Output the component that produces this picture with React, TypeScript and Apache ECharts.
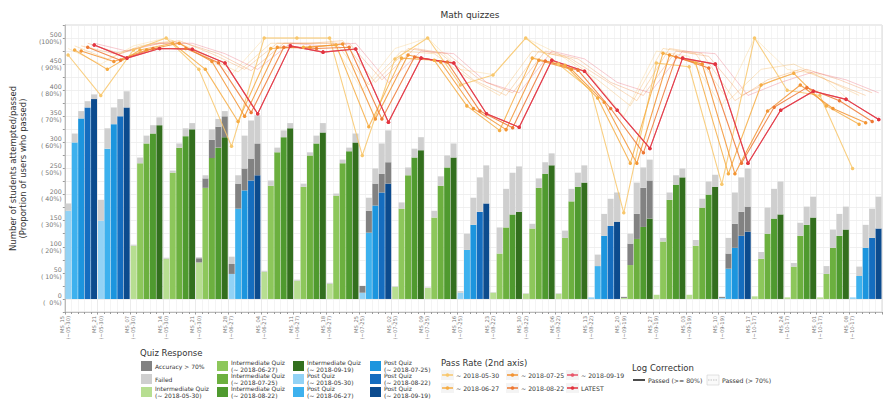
import React, { useEffect, useRef } from 'react';
import * as echarts from 'echarts';

// ---------- data ----------
const snapshots = ['2018-05-30', '2018-06-27', '2018-07-25', '2018-08-22', '2018-09-19'];
const quizNames = ['MS_15', 'MS_21', 'MS_07', 'MS_14', 'MS_21', 'MS_28', 'MS_04', 'MS_11', 'MS_18', 'MS_25', 'MS_02', 'MS_09', 'MS_16',
  'MS_23', 'MS_30', 'MS_06', 'MS_13', 'MS_20', 'MS_27', 'MS_03', 'MS_10', 'MS_17', 'MS_24', 'MS_01', 'MS_08'];
const quizWindows = ['(~05-30)', '(~05-30)', '(~05-30)', '(~05-30)', '(~05-30)', '(~06-27)', '(~06-27)', '(~06-27)', '(~06-27)', '(~07-25)',
  '(~07-25)', '(~07-25)', '(~07-25)', '(~08-22)', '(~08-22)', '(~08-22)', '(~08-22)', '(~09-19)', '(~09-19)', '(~09-19)', '(~09-19)',
  '(~10-17)', '(~10-17)', '(~10-17)', '(~10-17)'];
const quizType = ['post', 'post', 'inter', 'inter', 'inter', 'post', 'inter', 'inter', 'inter', 'post', 'inter', 'inter', 'post',
  'inter', 'inter', 'inter', 'post', 'inter', 'inter', 'inter', 'post', 'inter', 'inter', 'inter', 'post'];

// students who passed, per snapshot
const passed0530 = [169, 150, 102, 77, 70, 48, 52, 35, 29, 12, 23, 21, 12, 12, 10, 10, 3, 2, 8, 8, 2, 5, 3, 3, 3];
const passed0627 = [300, 288, 260, 242, 213, 173, 217, 215, 198, 127, 173, 156, 94, 87, 135, 117, 63, 65, 110, 102, 58, 77, 62, 48, 44];
const passed0725 = [346, 335, 298, 290, 270, 208, 281, 275, 260, 179, 237, 217, 142, 137, 213, 187, 121, 115, 190, 175, 98, 125, 121, 98, 98];
const passed0822 = [367, 350, 317, 312, 290, 227, 310, 298, 283, 204, 271, 252, 167, 162, 240, 215, 140, 138, 219, 200, 121, 154, 142, 121, 117];
const passed0919 = [383, 367, 333, 325, 310, 237, 327, 319, 300, 221, 285, 271, 183, 167, 256, 223, 148, 154, 233, 215, 129, 162, 156, 133, 135];
// not passed but accuracy > 70%
const acc0530 = [0, 0, 0, 0, 8, 19, 0, 0, 0, 13, 0, 0, 0, 0, 0, 0, 0, 2, 0, 0, 2, 0, 0, 0, 0];
const acc0627 = [0, 0, 0, 0, 18, 48, 0, 0, 0, 42, 0, 0, 0, 0, 0, 0, 0, 41, 0, 0, 29, 0, 0, 0, 0];
const acc0725 = [0, 0, 0, 0, 35, 42, 0, 0, 0, 42, 0, 0, 0, 0, 0, 0, 0, 48, 0, 0, 46, 0, 0, 0, 0];
const acc0822 = [0, 0, 0, 0, 40, 42, 0, 0, 0, 36, 0, 0, 0, 0, 0, 0, 0, 75, 0, 0, 46, 0, 0, 0, 0];
const acc0919 = [0, 0, 0, 0, 40, 61, 0, 0, 0, 41, 0, 0, 0, 0, 0, 0, 0, 73, 0, 0, 48, 0, 0, 0, 0];
// failed
const failed0530 = [14, 40, 2, 2, 2, 14, 2, 2, 2, 0, 1, 1, 3, 1, 1, 1, 0, 0, 0, 0, 0, 0, 0, 0, 0];
const failed0627 = [17, 39, 11, 4, 6, 16, 10, 6, 4, 25, 12, 13, 31, 50, 9, 14, 22, 19, 7, 11, 30, 13, 7, 15, 18];
const failed0725 = [14, 32, 15, 8, 20, 63, 9, 6, 7, 29, 15, 18, 52, 74, 18, 24, 42, 60, 14, 17, 60, 50, 25, 35, 44];
const failed0822 = [12, 33, 16, 15, 15, 73, 13, 15, 7, 58, 17, 23, 66, 80, 22, 27, 52, 39, 18, 25, 66, 57, 35, 42, 56];
const failed0919 = [9, 31, 15, 12, 10, 54, 10, 18, 17, 61, 25, 27, 73, 87, 23, 33, 56, 40, 17, 23, 73, 63, 40, 44, 61];

// pass rate (%) , passed >= 80%
const rate0530 = [93.5, 78, 95.4, 100, 88, 58.5, 100, 100, 100, 55, 92, 100, 82, 85.8, 100, 90, 80, 33, 90.4, 89, 44, 100, 80, 78, 50];
const rate0627 = [95.4, 88, 95.4, 98, 88, 68, 96, 96.5, 97.3, 66, 92.3, 91.5, 74, 64.6, 92.3, 89.6, 77, 52, 94.2, 90.4, 48, 82, 86.5, 74, 67];
const rate0725 = [95, 91, 95.4, 98, 91, 70, 96.5, 96.5, 97.7, 69, 93.5, 90.8, 73, 64.9, 91.5, 88, 75.4, 52, 93.5, 90, 48, 72, 82, 73, 67.5];
const rate0822 = [96.5, 91.5, 96, 96, 90.5, 71.5, 96.5, 96, 96.5, 69, 92.7, 90.8, 72, 65.6, 91.2, 87.7, 73, 56, 92.7, 88.5, 52, 73.5, 81, 76, 68];
const rate0919 = [97.3, 92.3, 96, 95.7, 90.4, 71, 97, 94.6, 95.8, 67.7, 92.3, 90.4, 71, 65.8, 91.5, 87.3, 72.3, 57.7, 92.3, 90, 52, 72.3, 79.6, 76.5, 68.8];
const rateLatest = [97.3, 92.3, 96, 95.7, 90.4, 71, 97, 94.6, 95.8, 67.7, 92.3, 90.4, 71, 65.8, 91.5, 87.3, 72.3, 57.7, 92.3, 90, 52, 72.3, 79.6, 76.5, 68.8];
// pass rate (%) , passed > 70%
const soft0530 = [96, 90, 97, 100, 95, 86, 100, 100, 100, 80, 96, 100, 88, 86, 100, 94, 85, 70, 95, 93, 74, 100, 88, 86, 75];
const soft0627 = [97, 92, 97, 99, 93, 87, 98, 98, 98, 82, 95, 94, 85, 78, 95, 93, 84, 74, 96, 94, 76, 88, 90, 84, 78];
const soft0725 = [97, 94, 97, 99, 94, 88, 98, 98, 99, 83, 96, 94, 84, 78, 95, 92, 84, 76, 96, 94, 76, 84, 88, 83, 78];
const soft0822 = [98, 94, 98, 98, 94, 87.5, 98, 98, 98, 84, 96, 94, 84, 79, 95, 92, 83, 78, 95, 93, 78, 84, 88, 84, 79];
const soft0919 = [98, 95, 98, 98, 94, 88, 98, 97, 98, 83, 95, 94, 83, 79, 95, 92, 83, 79, 95, 94, 78, 83, 87, 84, 79];

const yTicks = [0, 50, 100, 150, 200, 250, 300, 350, 400, 450, 500];

// ---------- styles ----------
const greens = ['#b7de91', '#8dc75b', '#6cb03f', '#4f9a2f', '#336f1e'];
const blues = ['#92d2f5', '#3db1ee', '#1c95de', '#156dbf', '#0c4b8e'];
const darkGrey = '#828282';
const lightGrey = '#cfcfcf';
const lineColors = ['#f8c76c', '#f6ad44', '#f39433', '#ee7834', '#e8566a', '#e2353f'];
const FONT = 'DejaVu Sans';

export default function App() {
  const ref = useRef<HTMLDivElement>(null);
  useEffect(() => {
    if (!ref.current) return;
    const chart = echarts.init(ref.current, undefined, { renderer: 'svg' });
    const passed = [passed0530, passed0627, passed0725, passed0822, passed0919];
    const acc = [acc0530, acc0627, acc0725, acc0822, acc0919];
    const failed = [failed0530, failed0627, failed0725, failed0822, failed0919];
    const rates = [rate0530, rate0627, rate0725, rate0822, rate0919, rateLatest];
    const softs = [soft0530, soft0627, soft0725, soft0822, soft0919];
    const nSlots = 5;

    const series: any[] = [];
    for (let d = 0; d < 5; d++) {
      const common = { type: 'bar', stack: 's' + d, xAxisIndex: 0, yAxisIndex: 0, barCategoryGap: '3%', barGap: '8%', silent: true };
      series.push({
        ...common,
        name: 'passed ' + snapshots[d],
        data: passed[d].map((v, i) => ({ value: v, itemStyle: { color: quizType[i] === 'post' ? blues[d] : greens[d] } })),
      });
      series.push({ ...common, name: 'acc ' + snapshots[d], data: acc[d], itemStyle: { color: darkGrey } });
      series.push({ ...common, name: 'failed ' + snapshots[d], data: failed[d], itemStyle: { color: lightGrey } });
    }
    softs.forEach((arr, d) => {
      series.push({
        type: 'line', xAxisIndex: 1, yAxisIndex: 0, z: 4, silent: true,
        data: arr.map((p, i) => [i * nSlots + d + 0.5, p * 5]),
        symbol: 'none',
        lineStyle: { width: 0.7, color: lineColors[d], opacity: 0.45 },
      });
    });
    rates.forEach((arr, d) => {
      const slot = Math.min(d, 4);
      series.push({
        type: 'line', xAxisIndex: 1, yAxisIndex: 0, z: 5, silent: true,
        data: arr.map((p, i) => [i * nSlots + slot + 0.5, p * 5]),
        symbol: 'circle', symbolSize: 3.5,
        lineStyle: { width: 1.1, color: lineColors[d], opacity: 0.85 },
        itemStyle: { color: lineColors[d] },
      });
    });

    // ---------- legend (graphic) ----------
    const g: any[] = [];
    const text = (x: number, y: number, t: string, size = 6.5, extra: any = {}) => ({
      type: 'text', x, y, silent: true,
      style: { text: t, fontSize: size, fill: '#333', fontFamily: FONT, verticalAlign: 'middle', lineHeight: size + 0.4, ...extra },
    });
    g.push(text(470, 15, 'Math quizzes', 9, { align: 'center' }));
    g.push(text(140, 353, 'Quiz Response', 8.5));
    const quizItems: { color: string; label: string }[] = [
      { color: darkGrey, label: 'Accuracy > 70%' },
      { color: lightGrey, label: 'Failed' },
      ...snapshots.map((s, d) => ({ color: greens[d], label: 'Intermediate Quiz\n(~ ' + s + ')' })),
      ...snapshots.map((s, d) => ({ color: blues[d], label: 'Post Quiz\n(~ ' + s + ')' })),
    ];
    const colX = [141, 217, 293, 370];
    const rowY = [366, 379, 392];
    quizItems.forEach((it, k) => {
      const c = Math.floor(k / 3), r = k % 3;
      g.push({ type: 'rect', silent: true, shape: { x: colX[c], y: rowY[r] - 5, width: 11, height: 10 }, style: { fill: it.color } });
      g.push(text(colX[c] + 14, rowY[r], it.label, 6));
    });

    g.push(text(441, 363, 'Pass Rate (2nd axis)', 8.5));
    const rateLabels = [...snapshots.map(s => '~ ' + s), 'LATEST'];
    const rX = [442, 507, 567];
    const rY = [375, 388];
    rateLabels.forEach((lab, k) => {
      const c = Math.floor(k / 2), r = k % 2;
      const x = rX[c], y = rY[r];
      g.push({ type: 'rect', silent: true, shape: { x: x - 1, y: y - 5, width: 13, height: 10 }, style: { fill: '#f4f4f4' } });
      g.push({ type: 'line', silent: true, shape: { x1: x, y1: y, x2: x + 11, y2: y }, style: { stroke: lineColors[k], lineWidth: 1.5 } });
      g.push({ type: 'circle', silent: true, shape: { cx: x + 5.5, cy: y, r: 1.8 }, style: { fill: lineColors[k] } });
      g.push(text(x + 14, y, lab, 6.2));
    });

    g.push(text(632, 368, 'Log Correction', 8.5));
    g.push({ type: 'line', silent: true, shape: { x1: 633, y1: 380, x2: 645, y2: 380 }, style: { stroke: '#111', lineWidth: 1.5 } });
    g.push(text(648, 380, 'Passed (>= 80%)', 6.2));
    g.push({ type: 'rect', silent: true, shape: { x: 707, y: 375, width: 12, height: 10 }, style: { fill: '#fafafa', stroke: '#d0d0d0', lineWidth: 0.6 } });
    g.push({ type: 'line', silent: true, shape: { x1: 708, y1: 380, x2: 718, y2: 380 }, style: { stroke: '#aaa', lineWidth: 0.7, lineDash: [1.5, 1] } });
    g.push(text(722, 380, 'Passed (> 70%)', 6.2));

    chart.setOption({
      animation: false,
      textStyle: { fontFamily: FONT },
      grid: { left: 58, right: 7, top: 25, bottom: 98, show: true, borderColor: '#d8d8d8', borderWidth: 1 },
      xAxis: [
        { type: 'category', data: quizNames.map((n, i) => n + i), show: false, boundaryGap: true },
        {
          type: 'value', min: 0, max: quizNames.length * nSlots, interval: nSlots, position: 'bottom',
          axisLine: { show: true, onZero: false, lineStyle: { color: '#bbb' } },
          axisTick: { show: true, length: 2.5, lineStyle: { color: '#999' } },
          minorTick: { show: true, splitNumber: nSlots, length: 2, lineStyle: { color: '#999' } },
          splitLine: { show: true, lineStyle: { color: '#e6e6e6', width: 0.8 } },
          minorSplitLine: { show: true, lineStyle: { color: '#ededed', width: 0.6 } },
          axisLabel: {
            rotate: 90, fontSize: 5.2, lineHeight: 6.2, color: '#777', margin: 4,
            formatter: (v: number) => {
              const i = Math.round(v / nSlots);
              return i < quizNames.length ? quizNames[i] + '\n' + quizWindows[i] : '';
            },
          },
        },
      ],
      yAxis: {
        type: 'value', min: -25, max: 525, interval: 25,
        name: 'Number of students attempted/passed\n(Proportion of users who passed)',
        nameLocation: 'middle', nameGap: 35, nameRotate: 90,
        nameTextStyle: { fontSize: 8.5, color: '#333', lineHeight: 10 },
        axisLine: { show: true, lineStyle: { color: '#bbb' } },
        axisTick: { show: true, length: 2, lineStyle: { color: '#999' } },
        splitLine: { show: true, lineStyle: { color: '#ececec', width: 0.8 } },
        axisLabel: {
          fontSize: 6.3, lineHeight: 7, color: '#777', margin: 3,
          formatter: (v: number) => {
            if (!yTicks.includes(v)) return '';
            const p = String(Math.round(v / 5)).padStart(3, ' ');
            return v + '\n(' + p + '%)';
          },
        },
      },
      series,
      graphic: { elements: g },
    });
    return () => chart.dispose();
  }, []);
  return <div ref={ref} style={{ position: 'fixed', left: 0, top: 0, width: 889, height: 410, background: '#fff' }} />;
}
